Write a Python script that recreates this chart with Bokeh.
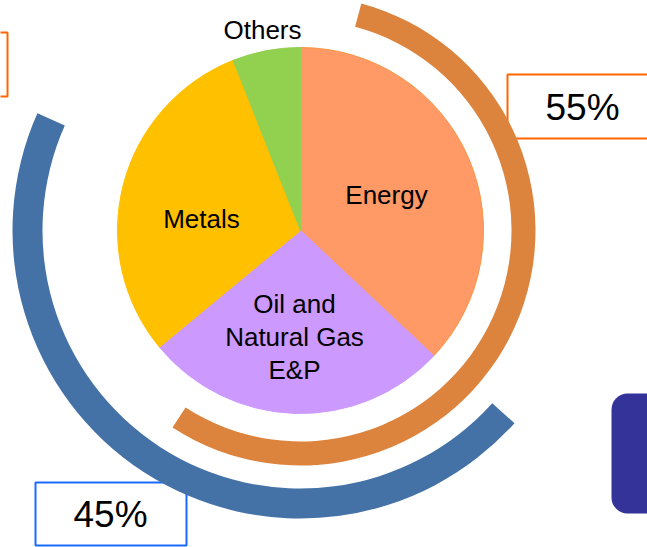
from bokeh.plotting import figure
from bokeh.models import Range1d, BoxAnnotation, ColumnDataSource
from bokeh.core.properties import value
from bokeh.embed import file_html
from bokeh.resources import INLINE
import numpy as np

# ---- data ----
categories = ["Energy", "Oil and\nNatural Gas\nE&P", "Metals", "Others"]
shares = [37, 27, 30, 6]
split_labels = ["55%", "45%"]
split_values = [55, 45]

# ---- styles / layout ----
slice_colors = ["#FF9966", "#CC99FF", "#FFC000", "#92D050"]
slice_lines = ["#F79646", "#CC99FF", "#FFC000", "#92D050"]
W, H = 647, 547
def Y(py):
    return H - py

cx, cy = 300, Y(230)
R = 183
FONT = value("Liberation Sans")

p = figure(width=W, height=H, x_range=Range1d(0, W), y_range=Range1d(0, H),
           output_backend="svg", toolbar_location=None, min_border=0)
p.margin = (0, 0, 0, 0)
p.axis.visible = False
p.grid.visible = False
p.outline_line_color = None
p.background_fill_color = "white"
p.border_fill_color = "white"

# decorative boxes
p.quad(left=[-50], right=[7], top=[Y(32)], bottom=[Y(96)], fill_color=None,
       line_color="#FF6600", line_width=2)
p.quad(left=[507], right=[680], top=[Y(74)], bottom=[Y(138)], fill_color=None,
       line_color="#FF6600", line_width=2)
p.quad(left=[35], right=[186], top=[Y(482)], bottom=[Y(545)], fill_color=None,
       line_color="#1A6AFF", line_width=2)
p.add_layout(BoxAnnotation(left=611, right=700, top=Y(393), bottom=Y(513),
                           fill_color="#333399", fill_alpha=1, line_color=None,
                           border_radius=16))

# pie
total = float(sum(shares))
cum = np.concatenate([[0], np.cumsum(shares)]) / total * 2 * np.pi
src = ColumnDataSource(dict(
    cat=categories, share=shares,
    start=np.pi / 2 - cum[:-1], end=np.pi / 2 - cum[1:],
    fill=slice_colors, line=slice_lines))
p.wedge(x=cx, y=cy, radius=R, start_angle="start", end_angle="end",
        direction="clock", fill_color="fill", line_color="line", line_width=1,
        source=src)

# split rings (55% orange, 45% blue)
o_start = np.radians(75)
o_end = o_start - split_values[0] / 100 * 2 * np.pi
p.annular_wedge(x=cx, y=cy, inner_radius=211, outer_radius=235,
                start_angle=o_start, end_angle=o_end, direction="clock",
                fill_color="#DC843E", line_color=None)
b_start = np.radians(156)
b_end = b_start + split_values[1] / 100 * 2 * np.pi
p.annular_wedge(x=cx, y=cy, inner_radius=258, outer_radius=288,
                start_angle=b_start, end_angle=b_end, direction="anticlock",
                fill_color="#4472A7", line_color=None)

# category labels
lab_x = [386, 294, 201, 262]
lab_y = [Y(194), Y(336), Y(218), Y(29)]
p.text(x=lab_x, y=lab_y, text=categories, text_align="center",
       text_baseline="middle", text_font=FONT, text_font_size="26px",
       text_color="black", text_line_height=1.1)

# split labels
p.text(x=[582, 110], y=[Y(107), Y(514)], text=split_labels, text_align="center",
       text_baseline="middle", text_font=FONT, text_font_size="37px",
       text_color="black")

open("out.html", "w").write(file_html(p, INLINE))
